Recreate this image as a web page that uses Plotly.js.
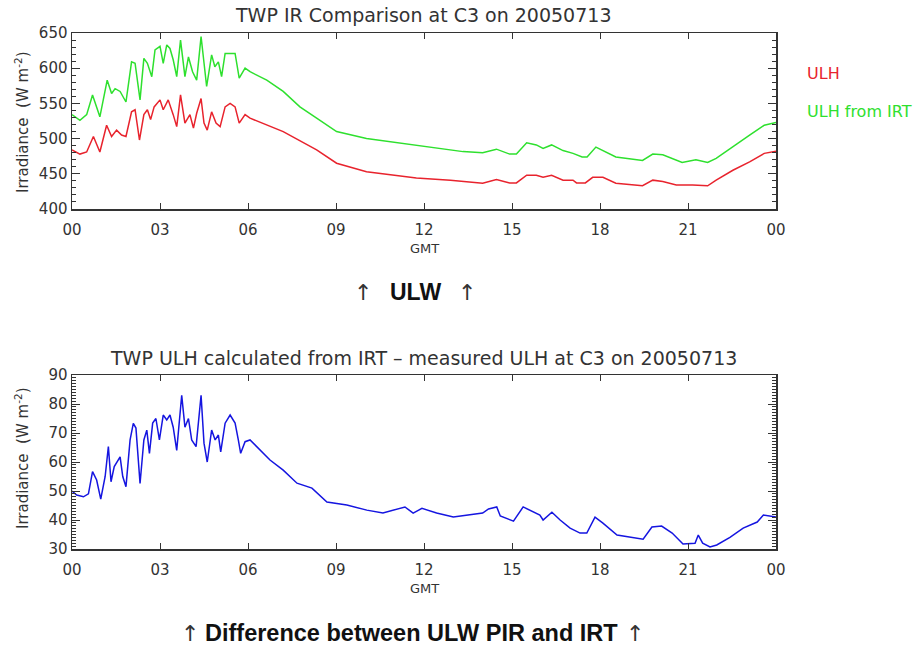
<!DOCTYPE html>
<html>
<head>
<meta charset="utf-8">
<script src="https://cdn.plot.ly/plotly-3.0.1.min.js"></script>
<style>html,body{margin:0;padding:0;background:#fff;}#chart{width:923px;height:650px;}</style>
</head>
<body>
<div id="chart"></div>
<script>
// ---- Data ----
const hourTicks = [0, 3, 6, 9, 12, 15, 18, 21, 24];
const hourTickText = ["00", "03", "06", "09", "12", "15", "18", "21", "00"];

const ulhHours = [0, 0.27, 0.5, 0.73, 0.95, 1.18, 1.35, 1.52, 1.69, 1.84, 2.03, 2.15, 2.30, 2.45, 2.57, 2.68, 2.80, 3.0, 3.11, 3.28, 3.45, 3.57, 3.70, 3.85, 4.02, 4.14, 4.25, 4.40, 4.50, 4.61, 4.76, 4.91, 5.05, 5.22, 5.39, 5.56, 5.70, 5.90, 6.07, 6.64, 7.2, 8.34, 9.02, 10.04, 10.61, 11.74, 12.9, 13.33, 14.0, 14.47, 14.92, 15.15, 15.5, 15.83, 16.06, 16.35, 16.74, 17.08, 17.2, 17.5, 17.75, 18.1, 18.54, 19.45, 19.8, 20.14, 20.6, 21.16, 21.67, 21.96, 22.53, 23.1, 23.6, 24];
const ulhValues = [484, 478, 481, 503, 481, 519, 503, 512, 505, 503, 538, 541, 498, 534, 541, 527, 545, 555, 541, 555, 534, 517, 562, 522, 534, 515, 536, 557, 522, 512, 538, 522, 517, 545, 550, 545, 522, 534, 529, 519, 510, 484, 465, 453, 450, 444, 441, 439, 436.5, 442, 437, 437, 448, 448, 445, 448, 441, 441, 437, 437, 445, 445, 436.5, 433, 441, 439, 434, 434, 433, 441, 455, 467, 479, 482];

const irtHours = [0, 0.27, 0.5, 0.70, 0.95, 1.2, 1.35, 1.47, 1.64, 1.84, 2.03, 2.15, 2.32, 2.45, 2.57, 2.72, 2.83, 3.0, 3.11, 3.23, 3.34, 3.45, 3.57, 3.70, 3.85, 3.97, 4.11, 4.25, 4.40, 4.50, 4.59, 4.76, 4.87, 4.99, 5.10, 5.22, 5.39, 5.56, 5.70, 5.90, 6.07, 6.64, 7.2, 7.77, 8.34, 9.02, 10.04, 11.74, 12.9, 13.33, 14.0, 14.47, 14.92, 15.15, 15.5, 15.83, 16.06, 16.35, 16.74, 17.08, 17.39, 17.56, 17.86, 18.2, 18.54, 19.45, 19.8, 20.14, 20.8, 21.27, 21.67, 21.96, 22.53, 23.1, 23.6, 24];
const irtValues = [534, 526, 534, 562, 531, 583, 564, 571, 567, 552, 609, 607, 555, 614, 607, 588, 626, 631, 607, 633, 628, 612, 588, 640, 588, 616, 595, 583, 645, 602, 574, 619, 602, 609, 588, 621, 621, 621, 586, 600, 595, 583, 567, 545, 529, 510, 500, 491, 484, 481.5, 480, 485, 478, 478, 494, 491, 486, 491, 483, 479, 474, 474, 488, 481.5, 474, 469, 478, 477, 466, 470, 466, 472, 489, 505, 519, 523];

const diffHours = [0, 0.16, 0.39, 0.56, 0.70, 0.84, 0.98, 1.13, 1.24, 1.33, 1.44, 1.64, 1.73, 1.84, 1.98, 2.09, 2.18, 2.32, 2.45, 2.55, 2.64, 2.75, 2.86, 2.98, 3.11, 3.23, 3.34, 3.45, 3.57, 3.74, 3.85, 3.97, 4.08, 4.23, 4.40, 4.50, 4.61, 4.76, 4.88, 4.99, 5.07, 5.22, 5.39, 5.56, 5.67, 5.75, 5.90, 6.07, 6.75, 7.2, 7.67, 8.18, 8.69, 9.37, 10.05, 10.6, 11.35, 11.63, 11.93, 12.43, 13.0, 13.47, 14.0, 14.2, 14.48, 14.6, 15.05, 15.38, 15.95, 16.06, 16.36, 16.64, 16.98, 17.32, 17.55, 17.83, 18.1, 18.58, 19.02, 19.47, 19.77, 20.1, 20.46, 20.83, 21.24, 21.35, 21.5, 21.75, 21.98, 22.43, 22.88, 23.36, 23.57, 24];
const diffValues = [50, 48.6, 48, 49, 56.7, 53.8, 47.2, 55, 65.3, 53.2, 58.4, 61.8, 55, 51.5, 67.6, 73.3, 71.7, 52.6, 67.6, 71, 63, 73.4, 75, 67.6, 76.2, 74.5, 76.2, 72, 64, 83, 72, 75, 67.6, 65.3, 83, 66.5, 60, 71, 67.6, 69.3, 63.5, 73.4, 76.2, 73.4, 67.6, 63, 67, 67.6, 60.7, 57.2, 52.7, 51, 46.2, 45.2, 43.4, 42.4, 44.5, 42.4, 44, 42.4, 41, 41.7, 42.4, 43.8, 44.5, 41.4, 39.6, 44.5, 41.7, 40, 42.7, 40, 37.2, 35.5, 35.5, 41, 38.9, 34.8, 34, 33.4, 37.6, 37.9, 35.5, 31.7, 32, 34.8, 32, 30.7, 31.4, 34, 37.2, 39.3, 41.7, 41];

// ---- Styling ----
const FONT = "DejaVu Sans, Liberation Sans, sans-serif";
const BOLD = "Liberation Sans, Arial, sans-serif";
const TXT = "#333";
const W = 923, H = 650;
const px = x => x / W;
const py = y => 1 - y / H;

const traces = [
  {x: ulhHours, y: ulhValues, xaxis: "x", yaxis: "y", type: "scatter", mode: "lines",
   line: {color: "#e8232d", width: 1.5}, name: "ULH"},
  {x: irtHours, y: irtValues, xaxis: "x", yaxis: "y", type: "scatter", mode: "lines",
   line: {color: "#2ee02e", width: 1.5}, name: "ULH from IRT"},
  {x: diffHours, y: diffValues, xaxis: "x2", yaxis: "y2", type: "scatter", mode: "lines",
   line: {color: "#1515e0", width: 1.5}, name: "Difference"}
];

function xAxis(anchor) {
  return {
    anchor: anchor, domain: [px(72), px(776)], range: [0, 24],
    tickmode: "array", tickvals: hourTicks, ticktext: hourTickText,
    showline: true, mirror: "ticks", linecolor: TXT, linewidth: 1.5,
    ticks: "inside", ticklen: 6, tickwidth: 1, tickcolor: TXT,
    ticklabelstandoff: 6,
    showgrid: false, zeroline: false,
    tickfont: {family: FONT, size: 15, color: TXT}
  };
}
function yAxis(anchor, domain, range, dtick, minorDtick) {
  return {
    anchor: anchor, domain: domain, range: range, dtick: dtick, tick0: range[0],
    showline: true, mirror: "ticks", linecolor: TXT, linewidth: 1.5,
    ticks: "inside", ticklen: 8, tickwidth: 1, tickcolor: TXT,
    minor: {ticks: "inside", ticklen: 4, dtick: minorDtick, tickcolor: TXT, tickwidth: 1},
    showgrid: false, zeroline: false,
    tickfont: {family: FONT, size: 15, color: TXT}
  };
}

function ann(text, x, y, font, opts) {
  return Object.assign({text: text, x: px(x), y: py(y), xref: "paper", yref: "paper",
    showarrow: false, xanchor: "center", yanchor: "middle", font: font}, opts || {});
}

const layout = {
  width: W, height: H,
  margin: {l: 0, r: 0, t: 0, b: 0},
  paper_bgcolor: "#fff", plot_bgcolor: "#fff",
  showlegend: false,
  xaxis: xAxis("y"),
  yaxis: yAxis("x", [py(209), py(33)], [400, 650], 50, 10),
  xaxis2: xAxis("y2"),
  yaxis2: yAxis("x2", [py(549), py(375)], [30, 90], 10, 1),
  annotations: [
    ann("TWP IR Comparison at C3 on 20050713", 423, 15, {family: FONT, size: 19, color: TXT}),
    ann("GMT", 424, 248, {family: FONT, size: 13, color: TXT}),
    ann("ULH", 805, 73, {family: FONT, size: 16, color: "#e8232d"}, {xanchor: "left"}),
    ann("ULH from IRT", 805, 112, {family: FONT, size: 16, color: "#2ee02e"}, {xanchor: "left"}),
    ann("Irradiance  (W m<sup>-2</sup>)", 22, 122, {family: FONT, size: 15, color: TXT}, {textangle: -90}),
    ann("TWP ULH calculated from IRT \u2013 measured ULH at C3 on 20050713", 423, 358, {family: FONT, size: 19, color: TXT}),
    ann("GMT", 424, 588, {family: FONT, size: 13, color: TXT}),
    ann("Irradiance  (W m<sup>-2</sup>)", 22, 458, {family: FONT, size: 15, color: TXT}, {textangle: -90}),
    ann("<b>ULW</b>", 415, 292, {family: BOLD, size: 23, color: "#111"}),
    ann("\u2191", 363, 292, {family: FONT, size: 22, color: "#333"}),
    ann("\u2191", 467, 292, {family: FONT, size: 22, color: "#333"}),
    ann("<b>Difference between ULW PIR and IRT</b>", 411, 633, {family: BOLD, size: 23.5, color: "#111"}),
    ann("\u2191", 190, 633, {family: FONT, size: 22, color: "#333"}),
    ann("\u2191", 635, 633, {family: FONT, size: 22, color: "#333"})
  ]
};

Plotly.newPlot("chart", traces, layout, {displayModeBar: false, staticPlot: true});
</script>
</body>
</html>
